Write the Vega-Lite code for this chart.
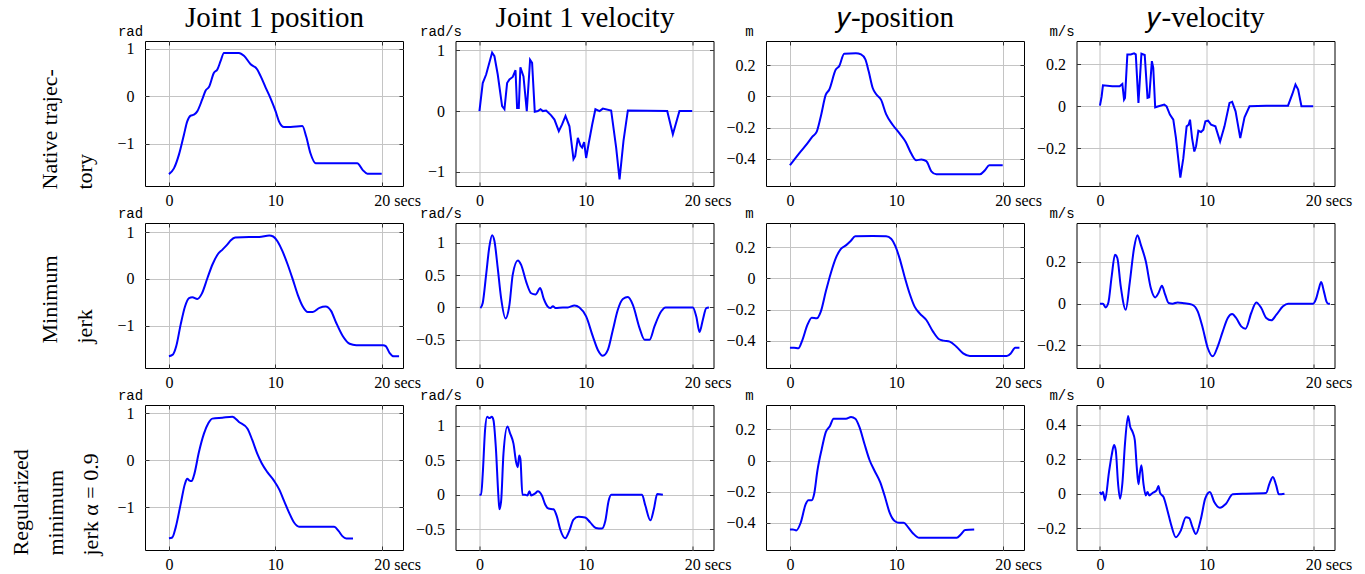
{
  "$schema": "https://vega.github.io/schema/vega-lite/v6.json",
  "background": "white",
  "padding": {"left": 8, "top": 2, "right": 5, "bottom": 5},
  "config": {
    "font": "Liberation Serif",
    "view": {"stroke": "#000000", "strokeWidth": 1},
    "axis": {"domain": false, "tickColor": "#333333", "tickWidth": 1, "tickSize": -4, "labelFont": "Liberation Serif", "labelFontSize": 16, "labelColor": "#000000", "titleFont": "Liberation Serif", "titleFontWeight": "normal", "titleColor": "#000000", "gridColor": "#c4c4c4", "gridWidth": 1, "format": ".2~f", "labelFlush": false, "labelOverlap": false},
    "line": {"color": "#0000ff", "strokeWidth": 2}
  },
  "datasets": {
    "p11": [{"t":0,"v":-1.64},{"t":0.47,"v":-1.52},{"t":0.94,"v":-1.23},{"t":1.41,"v":-0.81},{"t":1.72,"v":-0.53},{"t":2.04,"v":-0.41},{"t":2.35,"v":-0.39},{"t":2.66,"v":-0.32},{"t":3.13,"v":-0.07},{"t":3.45,"v":0.12},{"t":3.76,"v":0.19},{"t":4.23,"v":0.49},{"t":4.55,"v":0.56},{"t":4.86,"v":0.74},{"t":5.17,"v":0.91},{"t":6.58,"v":0.91},{"t":7.05,"v":0.85},{"t":7.68,"v":0.67},{"t":8.3,"v":0.56},{"t":8.62,"v":0.42},{"t":9.09,"v":0.18},{"t":9.56,"v":-0.05},{"t":10.03,"v":-0.32},{"t":10.34,"v":-0.53},{"t":10.82,"v":-0.65},{"t":11.44,"v":-0.65},{"t":12.54,"v":-0.63},{"t":12.9,"v":-0.85},{"t":13.3,"v":-1.2},{"t":13.8,"v":-1.41},{"t":17.7,"v":-1.41},{"t":18.2,"v":-1.55},{"t":18.65,"v":-1.63},{"t":20,"v":-1.63}],
    "p12": [{"t":0,"v":0},{"t":0.31,"v":0.46},{"t":0.63,"v":0.6},{"t":1.19,"v":0.96},{"t":1.41,"v":0.9},{"t":1.72,"v":0.6},{"t":2.13,"v":0.08},{"t":2.35,"v":0.03},{"t":2.6,"v":0.46},{"t":2.82,"v":0.52},{"t":3.13,"v":0.56},{"t":3.39,"v":0.67},{"t":3.54,"v":0.05},{"t":3.7,"v":0.05},{"t":3.85,"v":0.72},{"t":4.14,"v":0.57},{"t":4.45,"v":0},{"t":4.76,"v":0.84},{"t":4.95,"v":0.79},{"t":5.2,"v":-0.01},{"t":5.49,"v":0},{"t":5.74,"v":0.03},{"t":5.96,"v":0},{"t":6.27,"v":0.01},{"t":6.74,"v":-0.07},{"t":7.05,"v":-0.14},{"t":7.46,"v":-0.33},{"t":7.77,"v":-0.22},{"t":8.09,"v":-0.08},{"t":8.46,"v":-0.25},{"t":8.84,"v":-0.79},{"t":9.0,"v":-0.74},{"t":9.25,"v":-0.44},{"t":9.5,"v":-0.57},{"t":9.65,"v":-0.6},{"t":9.84,"v":-0.51},{"t":10.03,"v":-0.77},{"t":10.28,"v":-0.52},{"t":10.6,"v":-0.22},{"t":10.9,"v":0.03},{"t":11.29,"v":0},{"t":11.6,"v":0.04},{"t":12.38,"v":0.01},{"t":12.85,"v":-0.6},{"t":13.17,"v":-1.12},{"t":13.54,"v":-0.49},{"t":13.95,"v":0.01},{"t":17.65,"v":0},{"t":18.18,"v":-0.38},{"t":18.8,"v":0},{"t":20,"v":0}],
    "p13": [{"t":0,"v":-0.441},{"t":0.85,"v":-0.366},{"t":1.64,"v":-0.301},{"t":2.11,"v":-0.258},{"t":2.52,"v":-0.226},{"t":2.9,"v":-0.129},{"t":3.37,"v":0.011},{"t":3.69,"v":0.043},{"t":4.31,"v":0.172},{"t":4.63,"v":0.194},{"t":5.1,"v":0.273},{"t":6.2,"v":0.277},{"t":6.68,"v":0.269},{"t":7.09,"v":0.237},{"t":7.4,"v":0.161},{"t":7.78,"v":0.054},{"t":8.09,"v":0.015},{"t":8.57,"v":-0.022},{"t":9.04,"v":-0.114},{"t":9.67,"v":-0.183},{"t":10.3,"v":-0.237},{"t":10.87,"v":-0.29},{"t":11.4,"v":-0.366},{"t":11.87,"v":-0.409},{"t":12.35,"v":-0.404},{"t":12.82,"v":-0.415},{"t":13.29,"v":-0.48},{"t":13.76,"v":-0.499},{"t":17.86,"v":-0.499},{"t":18.33,"v":-0.473},{"t":18.74,"v":-0.441},{"t":20,"v":-0.441}],
    "p14": [{"t":0,"v":0.003},{"t":0.16,"v":0.048},{"t":0.28,"v":0.1},{"t":1.16,"v":0.096},{"t":1.85,"v":0.096},{"t":2.1,"v":0.107},{"t":2.26,"v":0.032},{"t":2.35,"v":0.04},{"t":2.57,"v":0.248},{"t":2.89,"v":0.248},{"t":3.2,"v":0.253},{"t":3.36,"v":0.248},{"t":3.61,"v":0.016},{"t":3.89,"v":0.251},{"t":4.2,"v":0.245},{"t":4.46,"v":0.04},{"t":4.62,"v":0.043},{"t":4.87,"v":0.216},{"t":5.0,"v":0.184},{"t":5.18,"v":-0.005},{"t":5.5,"v":0},{"t":6.03,"v":0.008},{"t":6.25,"v":0},{"t":6.56,"v":-0.04},{"t":6.88,"v":-0.064},{"t":7.13,"v":-0.152},{"t":7.54,"v":-0.341},{"t":7.82,"v":-0.248},{"t":8.13,"v":-0.096},{"t":8.32,"v":-0.088},{"t":8.45,"v":-0.064},{"t":8.64,"v":-0.152},{"t":8.85,"v":-0.216},{"t":9.01,"v":-0.192},{"t":9.23,"v":-0.117},{"t":9.48,"v":-0.123},{"t":9.7,"v":-0.112},{"t":9.89,"v":-0.072},{"t":10.14,"v":-0.069},{"t":10.42,"v":-0.088},{"t":10.83,"v":-0.096},{"t":11.27,"v":-0.168},{"t":11.68,"v":-0.096},{"t":12.15,"v":0.016},{"t":12.4,"v":0.021},{"t":12.72,"v":-0.024},{"t":13.16,"v":-0.152},{"t":13.56,"v":-0.053},{"t":14.03,"v":0},{"t":15.6,"v":0.003},{"t":17.64,"v":0.003},{"t":18.05,"v":0.059},{"t":18.34,"v":0.104},{"t":18.59,"v":0.08},{"t":18.9,"v":0},{"t":20,"v":0}],
    "p21": [{"t":0,"v":-1.657},{"t":0.38,"v":-1.62},{"t":0.69,"v":-1.44},{"t":1.1,"v":-0.98},{"t":1.51,"v":-0.59},{"t":1.89,"v":-0.41},{"t":2.2,"v":-0.39},{"t":2.67,"v":-0.43},{"t":3.08,"v":-0.32},{"t":3.62,"v":0.02},{"t":4.09,"v":0.31},{"t":4.56,"v":0.52},{"t":5.03,"v":0.63},{"t":5.5,"v":0.74},{"t":5.82,"v":0.83},{"t":6.23,"v":0.89},{"t":7.55,"v":0.9},{"t":8.49,"v":0.9},{"t":9.43,"v":0.93},{"t":9.8,"v":0.91},{"t":10.2,"v":0.81},{"t":10.68,"v":0.59},{"t":11.16,"v":0.31},{"t":11.64,"v":-0.01},{"t":12.11,"v":-0.34},{"t":12.58,"v":-0.59},{"t":13.05,"v":-0.71},{"t":13.52,"v":-0.71},{"t":14.15,"v":-0.62},{"t":14.72,"v":-0.59},{"t":15.25,"v":-0.69},{"t":15.72,"v":-0.94},{"t":16.35,"v":-1.23},{"t":16.98,"v":-1.39},{"t":17.61,"v":-1.42},{"t":20.13,"v":-1.42},{"t":20.38,"v":-1.44},{"t":20.75,"v":-1.59},{"t":21.13,"v":-1.66},{"t":21.63,"v":-1.66}],
    "p22": [{"t":0.09,"v":-0.01},{"t":0.31,"v":0.07},{"t":0.63,"v":0.51},{"t":0.94,"v":0.95},{"t":1.19,"v":1.12},{"t":1.41,"v":1.03},{"t":1.72,"v":0.61},{"t":2.04,"v":0.14},{"t":2.45,"v":-0.17},{"t":2.82,"v":0.04},{"t":3.13,"v":0.51},{"t":3.61,"v":0.73},{"t":3.92,"v":0.66},{"t":4.39,"v":0.4},{"t":4.86,"v":0.22},{"t":5.27,"v":0.2},{"t":5.71,"v":0.3},{"t":6.03,"v":0.14},{"t":6.38,"v":0.02},{"t":6.66,"v":-0.01},{"t":6.91,"v":0.02},{"t":7.15,"v":-0.01},{"t":7.84,"v":0},{"t":8.31,"v":0},{"t":8.93,"v":0.03},{"t":9.4,"v":0},{"t":10.03,"v":-0.14},{"t":10.66,"v":-0.45},{"t":11.13,"v":-0.66},{"t":11.6,"v":-0.75},{"t":12.07,"v":-0.66},{"t":12.54,"v":-0.35},{"t":13.0,"v":-0.04},{"t":13.48,"v":0.13},{"t":13.95,"v":0.16},{"t":14.42,"v":0.04},{"t":15.05,"v":-0.32},{"t":15.52,"v":-0.5},{"t":15.99,"v":-0.5},{"t":16.46,"v":-0.29},{"t":17.09,"v":-0.06},{"t":17.49,"v":0},{"t":20.06,"v":0},{"t":20.38,"v":-0.14},{"t":20.69,"v":-0.38},{"t":21.0,"v":-0.19},{"t":21.32,"v":-0.01},{"t":21.57,"v":0}],
    "p23": [{"t":0,"v":-0.445},{"t":0.38,"v":-0.445},{"t":0.79,"v":-0.449},{"t":1.17,"v":-0.396},{"t":1.64,"v":-0.299},{"t":2.05,"v":-0.252},{"t":2.52,"v":-0.256},{"t":2.9,"v":-0.213},{"t":3.37,"v":-0.084},{"t":3.84,"v":0.034},{"t":4.31,"v":0.131},{"t":4.79,"v":0.191},{"t":5.26,"v":0.213},{"t":5.73,"v":0.243},{"t":6.14,"v":0.271},{"t":7.78,"v":0.273},{"t":9.04,"v":0.271},{"t":9.51,"v":0.256},{"t":9.92,"v":0.206},{"t":10.3,"v":0.131},{"t":10.77,"v":0.013},{"t":11.24,"v":-0.095},{"t":11.72,"v":-0.181},{"t":12.19,"v":-0.224},{"t":12.82,"v":-0.267},{"t":13.45,"v":-0.342},{"t":14.02,"v":-0.391},{"t":14.46,"v":-0.4},{"t":15.02,"v":-0.406},{"t":15.65,"v":-0.439},{"t":16.28,"v":-0.482},{"t":16.91,"v":-0.499},{"t":20.38,"v":-0.499},{"t":20.76,"v":-0.482},{"t":21.17,"v":-0.445},{"t":21.57,"v":-0.445}],
    "p24": [{"t":0,"v":0},{"t":0.28,"v":0},{"t":0.53,"v":-0.018},{"t":0.78,"v":0.003},{"t":1.1,"v":0.131},{"t":1.41,"v":0.235},{"t":1.63,"v":0.219},{"t":1.95,"v":0.083},{"t":2.42,"v":-0.029},{"t":2.79,"v":0.099},{"t":3.2,"v":0.267},{"t":3.52,"v":0.328},{"t":3.83,"v":0.283},{"t":4.3,"v":0.203},{"t":4.77,"v":0.075},{"t":5.18,"v":0.03},{"t":5.49,"v":0.051},{"t":5.81,"v":0.086},{"t":6.12,"v":0.043},{"t":6.44,"v":0.003},{"t":6.81,"v":0},{"t":7.28,"v":0.006},{"t":7.91,"v":0.002},{"t":8.63,"v":-0.005},{"t":9.17,"v":-0.037},{"t":9.64,"v":-0.117},{"t":10.11,"v":-0.213},{"t":10.58,"v":-0.253},{"t":11.05,"v":-0.205},{"t":11.52,"v":-0.133},{"t":11.99,"v":-0.069},{"t":12.4,"v":-0.05},{"t":12.78,"v":-0.069},{"t":13.25,"v":-0.109},{"t":13.66,"v":-0.12},{"t":14.19,"v":-0.045},{"t":14.66,"v":0.006},{"t":15.13,"v":-0.021},{"t":15.6,"v":-0.069},{"t":16.07,"v":-0.08},{"t":16.55,"v":-0.053},{"t":17.17,"v":-0.013},{"t":17.64,"v":0},{"t":20,"v":0},{"t":20.25,"v":0.02},{"t":20.5,"v":0.065},{"t":20.75,"v":0.104},{"t":21.0,"v":0.06},{"t":21.25,"v":0.01},{"t":21.41,"v":0},{"t":21.57,"v":0}],
    "p31": [{"t":0,"v":-1.657},{"t":0.31,"v":-1.64},{"t":0.63,"v":-1.43},{"t":1.1,"v":-0.93},{"t":1.5,"v":-0.5},{"t":1.72,"v":-0.39},{"t":1.94,"v":-0.43},{"t":2.13,"v":-0.44},{"t":2.35,"v":-0.32},{"t":2.82,"v":0.18},{"t":3.29,"v":0.57},{"t":3.7,"v":0.79},{"t":4.08,"v":0.89},{"t":5.02,"v":0.91},{"t":5.96,"v":0.93},{"t":6.58,"v":0.82},{"t":7.37,"v":0.68},{"t":7.84,"v":0.43},{"t":8.31,"v":0.14},{"t":8.72,"v":-0.06},{"t":9.25,"v":-0.25},{"t":9.87,"v":-0.43},{"t":10.35,"v":-0.61},{"t":10.82,"v":-0.86},{"t":11.29,"v":-1.11},{"t":11.76,"v":-1.32},{"t":12.23,"v":-1.41},{"t":15.53,"v":-1.41},{"t":15.94,"v":-1.5},{"t":16.3,"v":-1.61},{"t":16.67,"v":-1.66},{"t":17.3,"v":-1.66}],
    "p32": [{"t":0,"v":0},{"t":0.16,"v":0},{"t":0.31,"v":0.3},{"t":0.53,"v":0.94},{"t":0.72,"v":1.13},{"t":0.94,"v":1.11},{"t":1.16,"v":1.13},{"t":1.32,"v":1.08},{"t":1.54,"v":0.69},{"t":1.79,"v":-0.04},{"t":1.88,"v":-0.21},{"t":2.04,"v":-0.09},{"t":2.26,"v":0.6},{"t":2.63,"v":0.99},{"t":2.88,"v":0.89},{"t":3.2,"v":0.74},{"t":3.45,"v":0.47},{"t":3.61,"v":0.4},{"t":3.73,"v":0.57},{"t":3.85,"v":0.52},{"t":4.04,"v":0},{"t":4.3,"v":0},{"t":4.51,"v":-0.01},{"t":4.7,"v":0.05},{"t":4.86,"v":-0.01},{"t":5.24,"v":0.02},{"t":5.49,"v":0.05},{"t":5.87,"v":-0.01},{"t":6.18,"v":-0.14},{"t":6.49,"v":-0.2},{"t":6.96,"v":-0.21},{"t":7.27,"v":-0.31},{"t":7.59,"v":-0.5},{"t":8.06,"v":-0.63},{"t":8.43,"v":-0.53},{"t":8.84,"v":-0.36},{"t":9.31,"v":-0.32},{"t":9.94,"v":-0.33},{"t":10.41,"v":-0.4},{"t":10.94,"v":-0.48},{"t":11.51,"v":-0.49},{"t":11.83,"v":-0.38},{"t":12.14,"v":-0.09},{"t":12.39,"v":0},{"t":15.28,"v":0},{"t":15.6,"v":-0.16},{"t":16.07,"v":-0.37},{"t":16.39,"v":-0.21},{"t":16.71,"v":0.01},{"t":17.24,"v":0}],
    "p33": [{"t":0,"v":-0.442},{"t":0.28,"v":-0.442},{"t":0.6,"v":-0.448},{"t":1.01,"v":-0.399},{"t":1.48,"v":-0.28},{"t":1.73,"v":-0.254},{"t":2.05,"v":-0.254},{"t":2.27,"v":-0.216},{"t":2.58,"v":-0.065},{"t":2.99,"v":0.075},{"t":3.37,"v":0.183},{"t":3.75,"v":0.22},{"t":4.1,"v":0.269},{"t":5.27,"v":0.269},{"t":5.74,"v":0.28},{"t":6.15,"v":0.269},{"t":6.53,"v":0.216},{"t":7.0,"v":0.108},{"t":7.48,"v":0.004},{"t":7.95,"v":-0.065},{"t":8.49,"v":-0.14},{"t":8.9,"v":-0.226},{"t":9.37,"v":-0.334},{"t":9.84,"v":-0.388},{"t":10.25,"v":-0.399},{"t":10.69,"v":-0.399},{"t":11.1,"v":-0.427},{"t":11.58,"v":-0.468},{"t":12.15,"v":-0.496},{"t":15.68,"v":-0.496},{"t":16.06,"v":-0.474},{"t":16.47,"v":-0.446},{"t":17.32,"v":-0.442}],
    "p34": [{"t":0,"v":0.01},{"t":0.13,"v":-0.004},{"t":0.28,"v":0.01},{"t":0.47,"v":-0.039},{"t":0.85,"v":0.126},{"t":1.1,"v":0.223},{"t":1.32,"v":0.281},{"t":1.48,"v":0.252},{"t":1.7,"v":0.058},{"t":1.88,"v":-0.029},{"t":2.1,"v":0.058},{"t":2.35,"v":0.291},{"t":2.64,"v":0.45},{"t":2.83,"v":0.388},{"t":3.05,"v":0.359},{"t":3.27,"v":0.31},{"t":3.45,"v":0.155},{"t":3.61,"v":0.054},{"t":3.74,"v":0.116},{"t":3.89,"v":0.165},{"t":4.08,"v":0.058},{"t":4.3,"v":-0.01},{"t":4.46,"v":0.01},{"t":4.62,"v":-0.01},{"t":4.93,"v":0.004},{"t":5.31,"v":0.019},{"t":5.49,"v":0.045},{"t":5.64,"v":0.004},{"t":5.96,"v":-0.019},{"t":6.33,"v":-0.097},{"t":6.65,"v":-0.174},{"t":7.12,"v":-0.252},{"t":7.59,"v":-0.213},{"t":8.06,"v":-0.136},{"t":8.37,"v":-0.141},{"t":8.68,"v":-0.194},{"t":9.0,"v":-0.233},{"t":9.47,"v":-0.145},{"t":9.87,"v":-0.029},{"t":10.31,"v":0.01},{"t":10.72,"v":-0.048},{"t":11.25,"v":-0.081},{"t":11.82,"v":-0.058},{"t":12.45,"v":-0.004},{"t":13.7,"v":0},{"t":15.58,"v":0.004},{"t":15.9,"v":0.058},{"t":16.22,"v":0.097},{"t":16.53,"v":0.048},{"t":16.78,"v":-0.004},{"t":17.31,"v":0}]
  },
  "columns": 4,
  "spacing": {"row": 37, "column": 52.5},
  "bounds": "flush",
  "concat": [
    {"width": 258, "height": 145, "data": {"name": "p11"},
     "layer": [
      {"mark": {"type": "line", "interpolate": "monotone"},
       "encoding": {
        "x": {"field": "t", "type": "quantitative", "scale": {"domain": [-2.25, 22], "nice": false, "zero": false}, "axis": {"orient": "bottom", "values": [0, 10, 20], "grid": true, "title": null, "labelPadding": 10, "labelExpr": "datum.value == 20 ? '20 secs' : datum.label", "labelAlign": {"condition": {"test": "datum.value == 20", "value": "left"}, "value": "center"}, "labelOffset": {"condition": {"test": "datum.value == 20", "value": -8}, "value": 0}}},
        "y": {"field": "v", "type": "quantitative", "scale": {"domain": [-1.89, 1.16], "nice": false, "zero": false}, "axis": {"orient": "left", "values": [-1, 0, 1], "grid": true, "labelPadding": 15, "title": ["Native trajec-", "tory"], "titleFontSize": 22, "titleLineHeight": 35, "titleAngle": 270, "titleAlign": "left", "titleBaseline": "top", "titleX": -106, "titleY": 148}}}},
      {"mark": {"type": "line", "strokeOpacity": 0},
       "encoding": {
        "x": {"field": "t", "type": "quantitative", "axis": {"orient": "top", "values": [0, 10, 20], "labels": false, "grid": false, "title": "Joint 1 position", "titleFontSize": 29, "titleAngle": 0, "titleAlign": "center", "titleBaseline": "alphabetic", "titleX": 129, "titleY": -15}},
        "y": {"field": "v", "type": "quantitative", "axis": {"orient": "right", "values": [-1, 0, 1], "labels": false, "grid": false, "title": "rad", "titleFont": "Liberation Mono", "titleFontSize": 14, "titleAngle": 0, "titleAlign": "center", "titleBaseline": "alphabetic", "titleX": -273, "titleY": -6}}}}
     ],
     "resolve": {"axis": {"x": "independent", "y": "independent"}}},
    {"width": 258, "height": 145, "data": {"name": "p12"},
     "layer": [
      {"mark": {"type": "line", "interpolate": "linear"},
       "encoding": {
        "x": {"field": "t", "type": "quantitative", "scale": {"domain": [-2.25, 22], "nice": false, "zero": false}, "axis": {"orient": "bottom", "values": [0, 10, 20], "grid": true, "title": null, "labelPadding": 10, "labelExpr": "datum.value == 20 ? '20 secs' : datum.label", "labelAlign": {"condition": {"test": "datum.value == 20", "value": "left"}, "value": "center"}, "labelOffset": {"condition": {"test": "datum.value == 20", "value": -8}, "value": 0}}},
        "y": {"field": "v", "type": "quantitative", "scale": {"domain": [-1.23, 1.15], "nice": false, "zero": false}, "axis": {"orient": "left", "values": [-1, 0, 1], "grid": true, "labelPadding": 15, "title": null}}}},
      {"mark": {"type": "line", "strokeOpacity": 0},
       "encoding": {
        "x": {"field": "t", "type": "quantitative", "axis": {"orient": "top", "values": [0, 10, 20], "labels": false, "grid": false, "title": "Joint 1 velocity", "titleFontSize": 29, "titleAngle": 0, "titleAlign": "center", "titleBaseline": "alphabetic", "titleX": 129, "titleY": -15}},
        "y": {"field": "v", "type": "quantitative", "axis": {"orient": "right", "values": [-1, 0, 1], "labels": false, "grid": false, "title": "rad/s", "titleFont": "Liberation Mono", "titleFontSize": 14, "titleAngle": 0, "titleAlign": "center", "titleBaseline": "alphabetic", "titleX": -273, "titleY": -6}}}}
     ],
     "resolve": {"axis": {"x": "independent", "y": "independent"}}},
    {"width": 258, "height": 145, "data": {"name": "p13"},
     "layer": [
      {"mark": {"type": "line", "interpolate": "monotone"},
       "encoding": {
        "x": {"field": "t", "type": "quantitative", "scale": {"domain": [-2.25, 22], "nice": false, "zero": false}, "axis": {"orient": "bottom", "values": [0, 10, 20], "grid": true, "title": null, "labelPadding": 10, "labelExpr": "datum.value == 20 ? '20 secs' : datum.label", "labelAlign": {"condition": {"test": "datum.value == 20", "value": "left"}, "value": "center"}, "labelOffset": {"condition": {"test": "datum.value == 20", "value": -8}, "value": 0}}},
        "y": {"field": "v", "type": "quantitative", "scale": {"domain": [-0.574, 0.355], "nice": false, "zero": false}, "axis": {"orient": "left", "values": [-0.4, -0.2, 0, 0.2], "grid": true, "labelPadding": 15, "title": null}}}},
      {"mark": {"type": "line", "strokeOpacity": 0},
       "encoding": {
        "x": {"field": "t", "type": "quantitative", "axis": {"orient": "top", "values": [0, 10, 20], "labels": false, "grid": false, "title": "𝑦-position", "titleFontSize": 29, "titleAngle": 0, "titleAlign": "center", "titleBaseline": "alphabetic", "titleX": 129, "titleY": -15}},
        "y": {"field": "v", "type": "quantitative", "axis": {"orient": "right", "values": [-0.4, -0.2, 0, 0.2], "labels": false, "grid": false, "title": "m", "titleFont": "Liberation Mono", "titleFontSize": 14, "titleAngle": 0, "titleAlign": "center", "titleBaseline": "alphabetic", "titleX": -275, "titleY": -6}}}}
     ],
     "resolve": {"axis": {"x": "independent", "y": "independent"}}},
    {"width": 258, "height": 145, "data": {"name": "p14"},
     "layer": [
      {"mark": {"type": "line", "interpolate": "linear"},
       "encoding": {
        "x": {"field": "t", "type": "quantitative", "scale": {"domain": [-2.2, 22], "nice": false, "zero": false}, "axis": {"orient": "bottom", "values": [0, 10, 20], "grid": true, "title": null, "labelPadding": 10, "labelExpr": "datum.value == 20 ? '20 secs' : datum.label", "labelAlign": {"condition": {"test": "datum.value == 20", "value": "left"}, "value": "center"}, "labelOffset": {"condition": {"test": "datum.value == 20", "value": -8}, "value": 0}}},
        "y": {"field": "v", "type": "quantitative", "scale": {"domain": [-0.381, 0.312], "nice": false, "zero": false}, "axis": {"orient": "left", "values": [-0.2, 0, 0.2], "grid": true, "labelPadding": 15, "title": null}}}},
      {"mark": {"type": "line", "strokeOpacity": 0},
       "encoding": {
        "x": {"field": "t", "type": "quantitative", "axis": {"orient": "top", "values": [0, 10, 20], "labels": false, "grid": false, "title": "𝑦-velocity", "titleFontSize": 29, "titleAngle": 0, "titleAlign": "center", "titleBaseline": "alphabetic", "titleX": 129, "titleY": -15}},
        "y": {"field": "v", "type": "quantitative", "axis": {"orient": "right", "values": [-0.2, 0, 0.2], "labels": false, "grid": false, "title": "m/s", "titleFont": "Liberation Mono", "titleFontSize": 14, "titleAngle": 0, "titleAlign": "center", "titleBaseline": "alphabetic", "titleX": -273, "titleY": -6}}}}
     ],
     "resolve": {"axis": {"x": "independent", "y": "independent"}}},
    {"width": 258, "height": 145, "data": {"name": "p21"},
     "layer": [
      {"mark": {"type": "line", "interpolate": "monotone"},
       "encoding": {
        "x": {"field": "t", "type": "quantitative", "scale": {"domain": [-2.25, 22], "nice": false, "zero": false}, "axis": {"orient": "bottom", "values": [0, 10, 20], "grid": true, "title": null, "labelPadding": 10, "labelExpr": "datum.value == 20 ? '20 secs' : datum.label", "labelAlign": {"condition": {"test": "datum.value == 20", "value": "left"}, "value": "center"}, "labelOffset": {"condition": {"test": "datum.value == 20", "value": -8}, "value": 0}}},
        "y": {"field": "v", "type": "quantitative", "scale": {"domain": [-1.91, 1.2], "nice": false, "zero": false}, "axis": {"orient": "left", "values": [-1, 0, 1], "grid": true, "labelPadding": 15, "title": ["Minimum", "jerk"], "titleFontSize": 22, "titleLineHeight": 35, "titleAngle": 270, "titleAlign": "left", "titleBaseline": "top", "titleX": -106, "titleY": 120}}}},
      {"mark": {"type": "line", "strokeOpacity": 0},
       "encoding": {
        "x": {"field": "t", "type": "quantitative", "axis": {"orient": "top", "values": [0, 10, 20], "labels": false, "grid": false, "title": null}},
        "y": {"field": "v", "type": "quantitative", "axis": {"orient": "right", "values": [-1, 0, 1], "labels": false, "grid": false, "title": "rad", "titleFont": "Liberation Mono", "titleFontSize": 14, "titleAngle": 0, "titleAlign": "center", "titleBaseline": "alphabetic", "titleX": -273, "titleY": -6}}}}
     ],
     "resolve": {"axis": {"x": "independent", "y": "independent"}}},
    {"width": 258, "height": 145, "data": {"name": "p22"},
     "layer": [
      {"mark": {"type": "line", "interpolate": "monotone"},
       "encoding": {
        "x": {"field": "t", "type": "quantitative", "scale": {"domain": [-2.25, 22], "nice": false, "zero": false}, "axis": {"orient": "bottom", "values": [0, 10, 20], "grid": true, "title": null, "labelPadding": 10, "labelExpr": "datum.value == 20 ? '20 secs' : datum.label", "labelAlign": {"condition": {"test": "datum.value == 20", "value": "left"}, "value": "center"}, "labelOffset": {"condition": {"test": "datum.value == 20", "value": -8}, "value": 0}}},
        "y": {"field": "v", "type": "quantitative", "scale": {"domain": [-0.94, 1.31], "nice": false, "zero": false}, "axis": {"orient": "left", "values": [-0.5, 0, 0.5, 1], "grid": true, "labelPadding": 15, "title": null}}}},
      {"mark": {"type": "line", "strokeOpacity": 0},
       "encoding": {
        "x": {"field": "t", "type": "quantitative", "axis": {"orient": "top", "values": [0, 10, 20], "labels": false, "grid": false, "title": null}},
        "y": {"field": "v", "type": "quantitative", "axis": {"orient": "right", "values": [-0.5, 0, 0.5, 1], "labels": false, "grid": false, "title": "rad/s", "titleFont": "Liberation Mono", "titleFontSize": 14, "titleAngle": 0, "titleAlign": "center", "titleBaseline": "alphabetic", "titleX": -273, "titleY": -6}}}}
     ],
     "resolve": {"axis": {"x": "independent", "y": "independent"}}},
    {"width": 258, "height": 145, "data": {"name": "p23"},
     "layer": [
      {"mark": {"type": "line", "interpolate": "monotone"},
       "encoding": {
        "x": {"field": "t", "type": "quantitative", "scale": {"domain": [-2.25, 22], "nice": false, "zero": false}, "axis": {"orient": "bottom", "values": [0, 10, 20], "grid": true, "title": null, "labelPadding": 10, "labelExpr": "datum.value == 20 ? '20 secs' : datum.label", "labelAlign": {"condition": {"test": "datum.value == 20", "value": "left"}, "value": "center"}, "labelOffset": {"condition": {"test": "datum.value == 20", "value": -8}, "value": 0}}},
        "y": {"field": "v", "type": "quantitative", "scale": {"domain": [-0.576, 0.357], "nice": false, "zero": false}, "axis": {"orient": "left", "values": [-0.4, -0.2, 0, 0.2], "grid": true, "labelPadding": 15, "title": null}}}},
      {"mark": {"type": "line", "strokeOpacity": 0},
       "encoding": {
        "x": {"field": "t", "type": "quantitative", "axis": {"orient": "top", "values": [0, 10, 20], "labels": false, "grid": false, "title": null}},
        "y": {"field": "v", "type": "quantitative", "axis": {"orient": "right", "values": [-0.4, -0.2, 0, 0.2], "labels": false, "grid": false, "title": "m", "titleFont": "Liberation Mono", "titleFontSize": 14, "titleAngle": 0, "titleAlign": "center", "titleBaseline": "alphabetic", "titleX": -275, "titleY": -6}}}}
     ],
     "resolve": {"axis": {"x": "independent", "y": "independent"}}},
    {"width": 258, "height": 145, "data": {"name": "p24"},
     "layer": [
      {"mark": {"type": "line", "interpolate": "monotone"},
       "encoding": {
        "x": {"field": "t", "type": "quantitative", "scale": {"domain": [-2.2, 22], "nice": false, "zero": false}, "axis": {"orient": "bottom", "values": [0, 10, 20], "grid": true, "title": null, "labelPadding": 10, "labelExpr": "datum.value == 20 ? '20 secs' : datum.label", "labelAlign": {"condition": {"test": "datum.value == 20", "value": "left"}, "value": "center"}, "labelOffset": {"condition": {"test": "datum.value == 20", "value": -8}, "value": 0}}},
        "y": {"field": "v", "type": "quantitative", "scale": {"domain": [-0.309, 0.387], "nice": false, "zero": false}, "axis": {"orient": "left", "values": [-0.2, 0, 0.2], "grid": true, "labelPadding": 15, "title": null}}}},
      {"mark": {"type": "line", "strokeOpacity": 0},
       "encoding": {
        "x": {"field": "t", "type": "quantitative", "axis": {"orient": "top", "values": [0, 10, 20], "labels": false, "grid": false, "title": null}},
        "y": {"field": "v", "type": "quantitative", "axis": {"orient": "right", "values": [-0.2, 0, 0.2], "labels": false, "grid": false, "title": "m/s", "titleFont": "Liberation Mono", "titleFontSize": 14, "titleAngle": 0, "titleAlign": "center", "titleBaseline": "alphabetic", "titleX": -273, "titleY": -6}}}}
     ],
     "resolve": {"axis": {"x": "independent", "y": "independent"}}},
    {"width": 258, "height": 145, "data": {"name": "p31"},
     "layer": [
      {"mark": {"type": "line", "interpolate": "monotone"},
       "encoding": {
        "x": {"field": "t", "type": "quantitative", "scale": {"domain": [-2.25, 22], "nice": false, "zero": false}, "axis": {"orient": "bottom", "values": [0, 10, 20], "grid": true, "title": null, "labelPadding": 10, "labelExpr": "datum.value == 20 ? '20 secs' : datum.label", "labelAlign": {"condition": {"test": "datum.value == 20", "value": "left"}, "value": "center"}, "labelOffset": {"condition": {"test": "datum.value == 20", "value": -8}, "value": 0}}},
        "y": {"field": "v", "type": "quantitative", "scale": {"domain": [-1.906, 1.18], "nice": false, "zero": false}, "axis": {"orient": "left", "values": [-1, 0, 1], "grid": true, "labelPadding": 15, "title": ["Regularized", "minimum", "jerk α = 0.9"], "titleFontSize": 22, "titleLineHeight": 35, "titleAngle": 270, "titleAlign": "left", "titleBaseline": "top", "titleX": -135, "titleY": 150}}}},
      {"mark": {"type": "line", "strokeOpacity": 0},
       "encoding": {
        "x": {"field": "t", "type": "quantitative", "axis": {"orient": "top", "values": [0, 10, 20], "labels": false, "grid": false, "title": null}},
        "y": {"field": "v", "type": "quantitative", "axis": {"orient": "right", "values": [-1, 0, 1], "labels": false, "grid": false, "title": "rad", "titleFont": "Liberation Mono", "titleFontSize": 14, "titleAngle": 0, "titleAlign": "center", "titleBaseline": "alphabetic", "titleX": -273, "titleY": -6}}}}
     ],
     "resolve": {"axis": {"x": "independent", "y": "independent"}}},
    {"width": 258, "height": 145, "data": {"name": "p32"},
     "layer": [
      {"mark": {"type": "line", "interpolate": "monotone"},
       "encoding": {
        "x": {"field": "t", "type": "quantitative", "scale": {"domain": [-2.25, 22], "nice": false, "zero": false}, "axis": {"orient": "bottom", "values": [0, 10, 20], "grid": true, "title": null, "labelPadding": 10, "labelExpr": "datum.value == 20 ? '20 secs' : datum.label", "labelAlign": {"condition": {"test": "datum.value == 20", "value": "left"}, "value": "center"}, "labelOffset": {"condition": {"test": "datum.value == 20", "value": -8}, "value": 0}}},
        "y": {"field": "v", "type": "quantitative", "scale": {"domain": [-0.8, 1.3], "nice": false, "zero": false}, "axis": {"orient": "left", "values": [-0.5, 0, 0.5, 1], "grid": true, "labelPadding": 15, "title": null}}}},
      {"mark": {"type": "line", "strokeOpacity": 0},
       "encoding": {
        "x": {"field": "t", "type": "quantitative", "axis": {"orient": "top", "values": [0, 10, 20], "labels": false, "grid": false, "title": null}},
        "y": {"field": "v", "type": "quantitative", "axis": {"orient": "right", "values": [-0.5, 0, 0.5, 1], "labels": false, "grid": false, "title": "rad/s", "titleFont": "Liberation Mono", "titleFontSize": 14, "titleAngle": 0, "titleAlign": "center", "titleBaseline": "alphabetic", "titleX": -273, "titleY": -6}}}}
     ],
     "resolve": {"axis": {"x": "independent", "y": "independent"}}},
    {"width": 258, "height": 145, "data": {"name": "p33"},
     "layer": [
      {"mark": {"type": "line", "interpolate": "monotone"},
       "encoding": {
        "x": {"field": "t", "type": "quantitative", "scale": {"domain": [-2.25, 22], "nice": false, "zero": false}, "axis": {"orient": "bottom", "values": [0, 10, 20], "grid": true, "title": null, "labelPadding": 10, "labelExpr": "datum.value == 20 ? '20 secs' : datum.label", "labelAlign": {"condition": {"test": "datum.value == 20", "value": "left"}, "value": "center"}, "labelOffset": {"condition": {"test": "datum.value == 20", "value": -8}, "value": 0}}},
        "y": {"field": "v", "type": "quantitative", "scale": {"domain": [-0.574, 0.357], "nice": false, "zero": false}, "axis": {"orient": "left", "values": [-0.4, -0.2, 0, 0.2], "grid": true, "labelPadding": 15, "title": null}}}},
      {"mark": {"type": "line", "strokeOpacity": 0},
       "encoding": {
        "x": {"field": "t", "type": "quantitative", "axis": {"orient": "top", "values": [0, 10, 20], "labels": false, "grid": false, "title": null}},
        "y": {"field": "v", "type": "quantitative", "axis": {"orient": "right", "values": [-0.4, -0.2, 0, 0.2], "labels": false, "grid": false, "title": "m", "titleFont": "Liberation Mono", "titleFontSize": 14, "titleAngle": 0, "titleAlign": "center", "titleBaseline": "alphabetic", "titleX": -275, "titleY": -6}}}}
     ],
     "resolve": {"axis": {"x": "independent", "y": "independent"}}},
    {"width": 258, "height": 145, "data": {"name": "p34"},
     "layer": [
      {"mark": {"type": "line", "interpolate": "monotone"},
       "encoding": {
        "x": {"field": "t", "type": "quantitative", "scale": {"domain": [-2.2, 22], "nice": false, "zero": false}, "axis": {"orient": "bottom", "values": [0, 10, 20], "grid": true, "title": null, "labelPadding": 10, "labelExpr": "datum.value == 20 ? '20 secs' : datum.label", "labelAlign": {"condition": {"test": "datum.value == 20", "value": "left"}, "value": "center"}, "labelOffset": {"condition": {"test": "datum.value == 20", "value": -8}, "value": 0}}},
        "y": {"field": "v", "type": "quantitative", "scale": {"domain": [-0.326, 0.513], "nice": false, "zero": false}, "axis": {"orient": "left", "values": [-0.2, 0, 0.2, 0.4], "grid": true, "labelPadding": 15, "title": null}}}},
      {"mark": {"type": "line", "strokeOpacity": 0},
       "encoding": {
        "x": {"field": "t", "type": "quantitative", "axis": {"orient": "top", "values": [0, 10, 20], "labels": false, "grid": false, "title": null}},
        "y": {"field": "v", "type": "quantitative", "axis": {"orient": "right", "values": [-0.2, 0, 0.2, 0.4], "labels": false, "grid": false, "title": "m/s", "titleFont": "Liberation Mono", "titleFontSize": 14, "titleAngle": 0, "titleAlign": "center", "titleBaseline": "alphabetic", "titleX": -273, "titleY": -6}}}}
     ],
     "resolve": {"axis": {"x": "independent", "y": "independent"}}}
  ]
}
